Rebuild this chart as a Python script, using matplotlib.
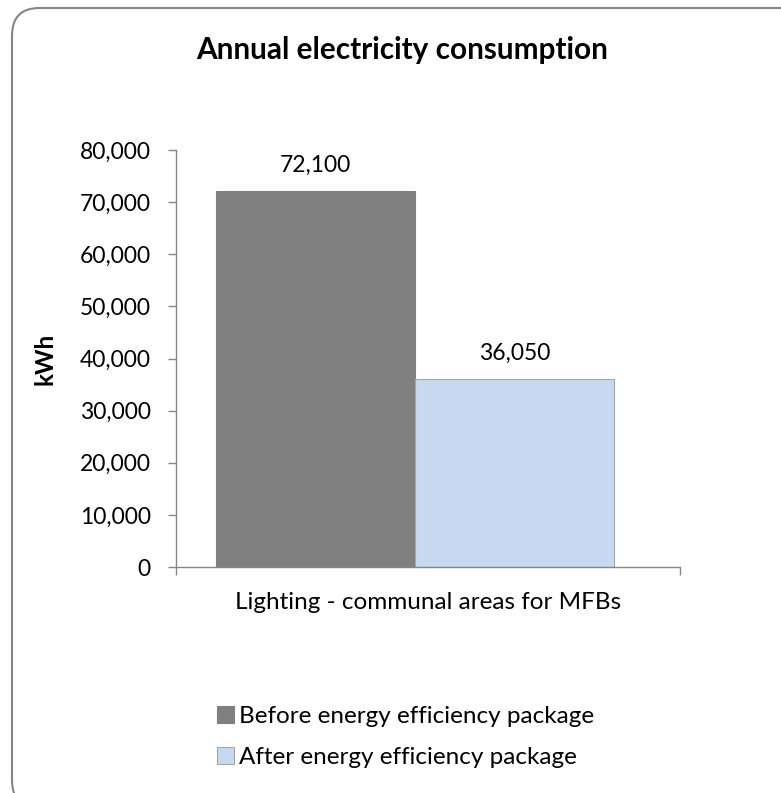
import matplotlib.pyplot as plt
from matplotlib.patches import FancyBboxPatch
from matplotlib.ticker import FuncFormatter

# дані
category = 'Lighting - communal areas for MFBs'
series_names = ['Before energy efficiency package', 'After energy efficiency package']
values = [72100, 36050]
colors = ['#808080', '#c6d9f1']
edge_colors = ['#808080', '#a6a6a6']

plt.rcParams['font.family'] = ['Lato', 'DejaVu Sans']
fs = 17.5
fs_num = 16.5

fig = plt.figure(figsize=(7.81, 7.93), dpi=100)

# рамка з заокругленими кутами
frame = FancyBboxPatch((12 / 781, -15 / 793), 800 / 781, 800 / 793,
                       boxstyle='round,pad=0,rounding_size=0.035',
                       transform=fig.transFigure, facecolor='white',
                       edgecolor='#868686', linewidth=1.5, zorder=-10)
fig.patches.append(frame)

ax = fig.add_axes([176 / 781, 1 - 567 / 793, 504 / 781, 417 / 793])
ax.set_facecolor('none')

bar_w = 0.395
offset = -0.026
xs = [offset - bar_w / 2, offset + bar_w / 2]
bars = []
for x, v, c, ec, name in zip(xs, values, colors, edge_colors, series_names):
    b = ax.bar(x, v, width=bar_w, color=c, edgecolor=ec, linewidth=0.8, label=name)
    bars.append(b)
    ax.text(x, v + 3000, f'{v:,}', ha='center', va='bottom', fontsize=fs_num)

ax.set_xlim(-0.5, 0.5)
ax.set_ylim(0, 80000)
ax.set_yticks(range(0, 80001, 10000))
ax.yaxis.set_major_formatter(FuncFormatter(lambda v, p: f'{int(v):,}'))
ax.set_xticks([-0.5, 0.5])
ax.set_xticklabels(['', ''])
ax.tick_params(axis='both', colors='#868686', labelcolor='black', labelsize=fs_num, length=6, width=1)
ax.tick_params(axis='y', pad=12)
for s in ['top', 'right']:
    ax.spines[s].set_visible(False)
for s in ['left', 'bottom']:
    ax.spines[s].set_color('#868686')
    ax.spines[s].set_linewidth(1)

ax.text(0, -0.085, category, transform=ax.get_xaxis_transform(), ha='center', va='center', fontsize=fs)
ax.set_ylabel('kWh', fontsize=fs, fontweight='bold')
ax.yaxis.set_label_coords(-0.238, 0.5)

fig.text(402 / 781, 1 - 50 / 793, 'Annual electricity consumption', ha='center', va='center',
         fontsize=21.4, fontweight='bold')

fig.legend(handles=[b[0] for b in bars], labels=series_names, loc='center left',
           bbox_to_anchor=(195 / 781, 1 - 737 / 793), frameon=False, fontsize=fs,
           handlelength=0.7, handleheight=0.7, handletextpad=0.2, labelspacing=0.8)

fig.savefig('out.png', dpi=100)
